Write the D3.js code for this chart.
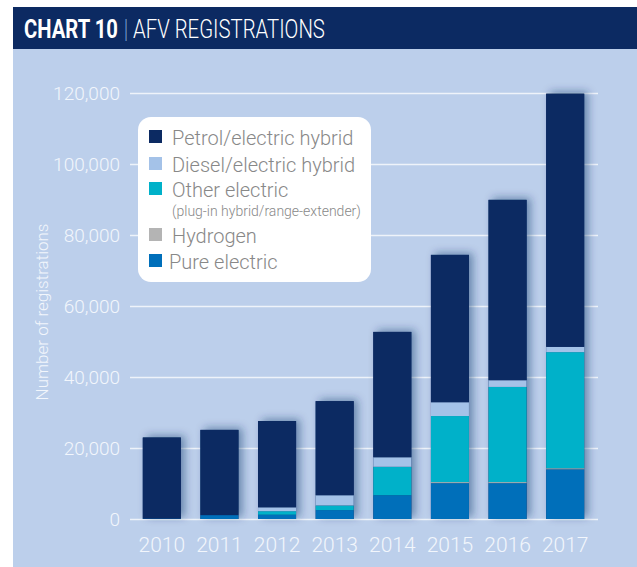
<!DOCTYPE html>
<html>
<head>
<meta charset="utf-8">
<script src="https://cdn.jsdelivr.net/npm/d3@7"></script>
<style>
  body { margin: 0; background: #fff; }
  svg { display: block; font-family: Roboto, "Noto Sans", sans-serif; }
</style>
</head>
<body>
<svg id="chart"></svg>
<script>
// chart values
const years = ['2010', '2011', '2012', '2013', '2014', '2015', '2016', '2017'];
const pureElectric  = [150, 1100, 1200, 2500, 6700, 10100, 10100, 14000];
const hydrogen      = [0, 0, 0, 0, 0, 300, 300, 300];
const otherElectric = [0, 0, 1000, 1300, 8000, 18600, 26800, 32700];
const dieselHybrid  = [0, 0, 1100, 2900, 2700, 3900, 1900, 1500];
const petrolHybrid  = [22800, 24000, 24300, 26500, 35300, 41500, 50800, 71300];
const yTicks = [0, 20000, 40000, 60000, 80000, 100000, 120000];

const keys = ['pure', 'hydrogen', 'other', 'diesel', 'petrol'];
const colors = {
    petrol: '#0c2a62',
    diesel: '#a4c2e8',
    other: '#00b1c9',
    hydrogen: '#b4b4b4',
    pure: '#006fba'
};

const rows = years.map((y, i) => ({
    year: y,
    pure: pureElectric[i],
    hydrogen: hydrogen[i],
    other: otherElectric[i],
    diesel: dieselHybrid[i],
    petrol: petrolHybrid[i]
}));

const W = 637, H = 567;
const svg = d3.select('#chart').attr('width', W).attr('height', H);

// shadow for the bars
const defs = svg.append('defs');
defs.append('filter')
    .attr('id', 'shadow')
    .attr('x', '-40%').attr('y', '-20%').attr('width', '180%').attr('height', '140%')
    .append('feDropShadow')
    .attr('dx', 4).attr('dy', -2)
    .attr('stdDeviation', 4)
    .attr('flood-color', '#0c2a62')
    .attr('flood-opacity', 0.45);

// panel + title bar
svg.append('rect').attr('x', 13).attr('y', 48).attr('width', W - 13).attr('height', H - 48).attr('fill', '#bccfeb');
svg.append('rect').attr('x', 13).attr('y', 7).attr('width', W - 13).attr('height', 42).attr('fill', '#0c2a62');

// title pieces, squeezed horizontally to look like a condensed face
const titleParts = [
    { text: 'CHART 10', x: 24, len: 94, weight: 'bold', fill: '#fff' },
    { text: '|', x: 124, len: 4, weight: 300, fill: '#7fa6d8' },
    { text: 'AFV REGISTRATIONS', x: 133, len: 192, weight: 300, fill: '#fff' }
];
svg.append('g').selectAll('text')
    .data(titleParts)
    .join('text')
    .attr('fill', d => d.fill)
    .style('font-size', '25px')
    .style('font-weight', d => d.weight)
    .text(d => d.text)
    .attr('transform', function(d) {
        const k = Math.min(1, d.len / this.getComputedTextLength());
        return `translate(${d.x},38) scale(${k},1)`;
    });

// scales
const x = d3.scaleBand().domain(years).range([133, 594]).paddingInner(0.34).paddingOuter(0.17);
const y = d3.scaleLinear().domain([0, 120000]).range([519, 93]);

// y axis with gridlines
const yAxis = svg.append('g')
    .attr('transform', 'translate(130,0)')
    .call(d3.axisLeft(y).tickValues(yTicks).tickFormat(d3.format(',')).tickSize(-468).tickPadding(10));
yAxis.select('.domain').remove();
yAxis.selectAll('line').attr('stroke', '#fff').attr('stroke-opacity', 0.75).attr('stroke-width', 1.5);
yAxis.selectAll('text')
    .attr('fill', '#f2f6fc')
    .style('font-size', '19px')
    .style('font-weight', 300)
    .style('font-family', 'Roboto, sans-serif');

svg.append('text')
    .attr('transform', 'translate(48,312) rotate(-90)')
    .attr('text-anchor', 'middle')
    .attr('fill', '#f2f6fc')
    .style('font-size', '17px')
    .style('font-weight', 300)
    .text('Number of registrations');

// bar shadows
const totals = rows.map(r => keys.reduce((s, k) => s + r[k], 0));
svg.append('g').selectAll('rect')
    .data(rows)
    .join('rect')
    .attr('x', d => x(d.year))
    .attr('width', x.bandwidth())
    .attr('y', (d, i) => y(totals[i]))
    .attr('height', (d, i) => y(0) - y(totals[i]))
    .attr('fill', colors.petrol)
    .attr('filter', 'url(#shadow)');

// stacked bars
const series = d3.stack().keys(keys)(rows);
svg.append('g').selectAll('g')
    .data(series)
    .join('g')
    .attr('fill', d => colors[d.key])
    .selectAll('rect')
    .data(d => d)
    .join('rect')
    .attr('x', d => x(d.data.year))
    .attr('width', x.bandwidth())
    .attr('y', d => y(d[1]))
    .attr('height', d => y(d[0]) - y(d[1]));

// x axis labels
const xAxis = svg.append('g')
    .attr('transform', 'translate(0,519)')
    .call(d3.axisBottom(x).tickSize(0).tickPadding(18));
xAxis.select('.domain').remove();
xAxis.selectAll('text')
    .attr('fill', '#f2f6fc')
    .style('font-size', '21px')
    .style('font-weight', 300)
    .style('font-family', 'Roboto, sans-serif');

// legend
const legendItems = [
    { key: 'petrol', label: 'Petrol/electric hybrid', y: 130 },
    { key: 'diesel', label: 'Diesel/electric hybrid', y: 157 },
    { key: 'other', label: 'Other electric', y: 182 },
    { key: 'hydrogen', label: 'Hydrogen', y: 228 },
    { key: 'pure', label: 'Pure electric', y: 254 }
];
const legend = svg.append('g');
legend.append('rect')
    .attr('x', 138).attr('y', 117).attr('width', 233).attr('height', 165)
    .attr('rx', 13).attr('fill', '#fff');
const li = legend.selectAll('g.item')
    .data(legendItems)
    .join('g')
    .attr('class', 'item');
li.append('rect')
    .attr('x', 149).attr('y', d => d.y)
    .attr('width', 13).attr('height', 13)
    .attr('fill', d => colors[d.key]);
li.append('text')
    .attr('x', d => d.key === 'pure' ? 169 : 172)
    .attr('y', d => d.y + 15)
    .attr('fill', '#888')
    .style('font-size', '20px')
    .style('font-weight', 300)
    .text(d => d.label);
legend.append('text')
    .attr('x', 172).attr('y', 216)
    .attr('fill', '#888')
    .style('font-size', '14px')
    .style('font-weight', 300)
    .text('(plug-in hybrid/range-extender)');
</script>
</body>
</html>
